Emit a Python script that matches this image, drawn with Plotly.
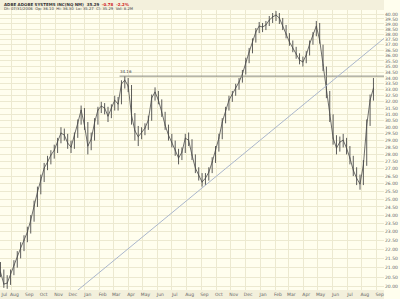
import math
import pandas as pd
import plotly.graph_objects as go

# ---------------- data (weekly) ----------------
start_week = "2004-07-09"
close = [20.77, 20.14, 20.19, 20.66, 21.14, 21.63, 22.07, 22.52, 22.98, 23.69,
         24.61, 25.44, 26.23, 27.04, 27.46, 27.95, 28.30, 28.89, 29.56, 29.41,
         28.82, 28.52, 29.33, 30.31, 31.34, 30.15, 28.60, 29.10, 30.35, 31.34,
         31.66, 31.50, 30.86, 31.50, 32.14, 31.82, 33.48, 33.82, 33.31, 30.94,
         29.73, 29.28, 29.63, 29.93, 30.55, 32.31, 32.81, 32.14, 31.18, 30.16,
         29.41, 28.89, 28.30, 27.74, 28.16, 29.18, 29.03, 27.95, 27.04, 26.56,
         26.10, 26.36, 26.76, 27.46, 28.30, 29.18, 30.39, 31.34, 32.14, 32.64,
         33.14, 33.65, 34.34, 35.41, 36.32, 37.25, 38.22, 38.80, 38.70, 38.90,
         39.39, 39.70, 39.90, 39.59, 38.80, 38.02, 37.25, 36.69, 36.13, 35.59,
         35.41, 36.04, 37.06, 37.83, 38.80, 37.44, 35.14, 32.81, 30.94, 29.18,
         28.45, 28.89, 29.03, 28.45, 27.74, 26.90, 26.36, 25.97, 27.25, 30.16,
         32.14, 33.14]
high = [21.3, 20.9, 20.6, 20.9, 21.4, 21.9, 22.4, 22.8, 23.3, 24.0,
        24.9, 25.8, 26.6, 27.4, 27.9, 28.3, 28.7, 29.2, 30.0, 29.9,
        29.5, 29.0, 29.6, 30.6, 31.7, 31.5, 30.4, 29.6, 30.7, 31.6,
        32.0, 31.9, 31.6, 31.8, 32.5, 32.4, 33.8, 34.16, 34.0, 33.4,
        31.1, 30.1, 30.0, 30.3, 30.9, 32.6, 33.2, 32.9, 32.2, 31.2,
        30.2, 29.5, 29.0, 28.4, 28.5, 29.5, 29.6, 29.1, 28.0, 27.1,
        26.7, 26.7, 27.1, 27.8, 28.6, 29.5, 30.7, 31.6, 32.5, 32.9,
        33.5, 34.0, 34.7, 35.8, 36.7, 37.6, 38.6, 39.2, 39.1, 39.3,
        39.8, 40.1, 40.3, 40.1, 39.6, 38.9, 38.1, 37.4, 36.8, 36.2,
        35.9, 36.4, 37.4, 38.2, 39.3, 39.1, 37.0, 35.0, 32.9, 31.0,
        29.4, 29.3, 29.5, 29.2, 28.6, 27.9, 27.1, 26.6, 27.6, 30.6,
        32.6, 34.0]
low = [20.5, 19.95, 19.9, 20.1, 20.6, 21.0, 21.5, 21.9, 22.4, 22.9,
       23.6, 24.5, 25.3, 26.1, 26.9, 27.3, 27.7, 28.1, 28.8, 29.0,
       28.4, 28.1, 28.4, 29.2, 30.2, 29.8, 28.0, 28.3, 29.0, 30.2,
       31.1, 31.0, 30.4, 30.7, 31.3, 31.3, 31.8, 33.1, 32.8, 30.2,
       29.0, 28.6, 29.1, 29.4, 29.8, 30.5, 32.1, 31.8, 30.8, 29.8,
       29.0, 28.5, 27.9, 27.3, 27.6, 28.1, 28.6, 27.6, 26.7, 26.2,
       25.8, 25.9, 26.2, 26.7, 27.4, 28.2, 29.1, 30.3, 31.3, 32.0,
       32.5, 33.0, 33.6, 34.3, 35.3, 36.2, 37.2, 38.1, 38.2, 38.4,
       38.8, 39.1, 39.3, 39.0, 38.4, 37.6, 36.9, 36.3, 35.7, 35.2,
       35.0, 35.3, 36.0, 37.0, 37.8, 37.1, 34.6, 32.3, 30.4, 28.7,
       28.0, 28.2, 28.5, 28.0, 27.3, 26.5, 25.9, 25.6, 25.9, 27.2,
       30.1, 32.1]

resistance_level = 34.16
resistance_dates = ["2005-03-14", "2006-09-16"]
trend_dates = ["2004-11-22", "2006-09-16"]
trend_prices = [19.34, 37.6]

month_starts = ["2004-08-01", "2004-09-01", "2004-10-01", "2004-11-01", "2004-12-01",
                "2005-01-01", "2005-02-01", "2005-03-01", "2005-04-01", "2005-05-01",
                "2005-06-01", "2005-07-01", "2005-08-01", "2005-09-01", "2005-10-01",
                "2005-11-01", "2005-12-01", "2006-01-01", "2006-02-01", "2006-03-01",
                "2006-04-01", "2006-05-01", "2006-06-01", "2006-07-01", "2006-08-01",
                "2006-09-01"]
month_labels = ["Jul", "Aug", "Sep", "Oct", "Nov", "Dec", "Jan", "Feb", "Mar", "Apr",
                "May", "Jun", "Jul", "Aug", "Sep", "Oct", "Nov", "Dec", "Jan", "Feb",
                "Mar", "Apr", "May", "Jun", "Jul", "Aug", "Sep"]
price_ticks = [20 + 0.5 * i for i in range(41)]

header_line1 = "ADBE ADOBE SYSTEMS INC(NQ NM)  35.29"
header_change = "-0.78  -2.2%"
header_line2 = "Dt: 07/31/2006  Op: 36.10  Hi: 36.30  Lo: 35.27  Cl: 35.29  Vol: 8.2M"

# ---------------- figure ----------------
dates = pd.date_range(start_week, periods=len(close), freq="7D")
x_start, x_end = "2004-07-08", "2006-09-16"
y_lo, y_hi = 19.84, 41.45

cream = "#FFFEEE"
grid = "#ECE9D0"
band = "#F3F0DC"
bar_color = "#4a4a4a"

fig = go.Figure()
fig.add_trace(go.Scatter(x=dates, y=close, mode="lines",
                         line=dict(color=bar_color, width=0.8), hoverinfo="skip"))
fig.add_trace(go.Ohlc(x=dates, open=close, high=high, low=low, close=close,
                      increasing_line_color=bar_color, decreasing_line_color=bar_color,
                      line_width=0.9, tickwidth=0.1))
fig.add_trace(go.Scatter(x=resistance_dates, y=[resistance_level, resistance_level],
                         mode="lines", line=dict(color="#8a8a80", width=1)))
fig.add_trace(go.Scatter(x=trend_dates, y=trend_prices, mode="lines",
                         line=dict(color="#AAB6CC", width=1)))

tick_pos = ["2004-07-17"] + [str((pd.Timestamp(d) + pd.Timedelta(days=6)).date()) for d in month_starts]

fig.update_layout(
    width=400, height=299,
    margin=dict(l=0, r=16, t=0, b=9),
    paper_bgcolor=cream, plot_bgcolor=cream,
    showlegend=False,
    font=dict(family="DejaVu Sans", size=5, color="#555555"),
    xaxis=dict(type="date", range=[x_start, x_end], rangeslider=dict(visible=False),
               tickvals=tick_pos, ticktext=month_labels, ticks="", showgrid=False,
               tickfont=dict(size=4.5, color="#666666"), ticklabelstandoff=0,
               minor=dict(tickvals=month_starts, showgrid=True, gridcolor=grid, gridwidth=1, ticks=""),
               showline=False, zeroline=False, fixedrange=True),
    yaxis=dict(type="log", side="right", range=[math.log10(y_lo), math.log10(y_hi)],
               tickvals=price_ticks, ticktext=[f"{v:.2f}" for v in price_ticks],
               tickfont=dict(size=4.5, color="#666666"), ticks="",
               showgrid=True, gridcolor=grid, gridwidth=1, showline=False, zeroline=False),
)

fig.add_shape(type="rect", xref="paper", yref="paper", x0=0, x1=1, y0=-9 / 290, y1=0,
              fillcolor=band, line_width=0, layer="below")
fig.add_shape(type="rect", xref="paper", yref="paper", x0=0, x1=1, y0=1 - 10 / 290, y1=1,
              fillcolor=band, line_width=0, layer="above")

fig.add_annotation(x=0.005, y=1, xref="paper", yref="paper", xanchor="left", yanchor="top",
                   text=f"<b>{header_line1}</b>  <span style='color:#d02020'><b>{header_change}</b></span>",
                   showarrow=False, font=dict(size=4, color="#333333"))
fig.add_annotation(x=0.005, y=1 - 4.5 / 290, xref="paper", yref="paper", xanchor="left", yanchor="top",
                   text=header_line2, showarrow=False, font=dict(size=3.8, color="#444444"))
fig.add_annotation(x="2005-03-10", y=math.log10(resistance_level), xref="x", yref="y",
                   xanchor="left", yanchor="bottom", text=f"{resistance_level:.2f}",
                   showarrow=False, font=dict(size=4, color="#444444"))

fig.write_html("out.html")
